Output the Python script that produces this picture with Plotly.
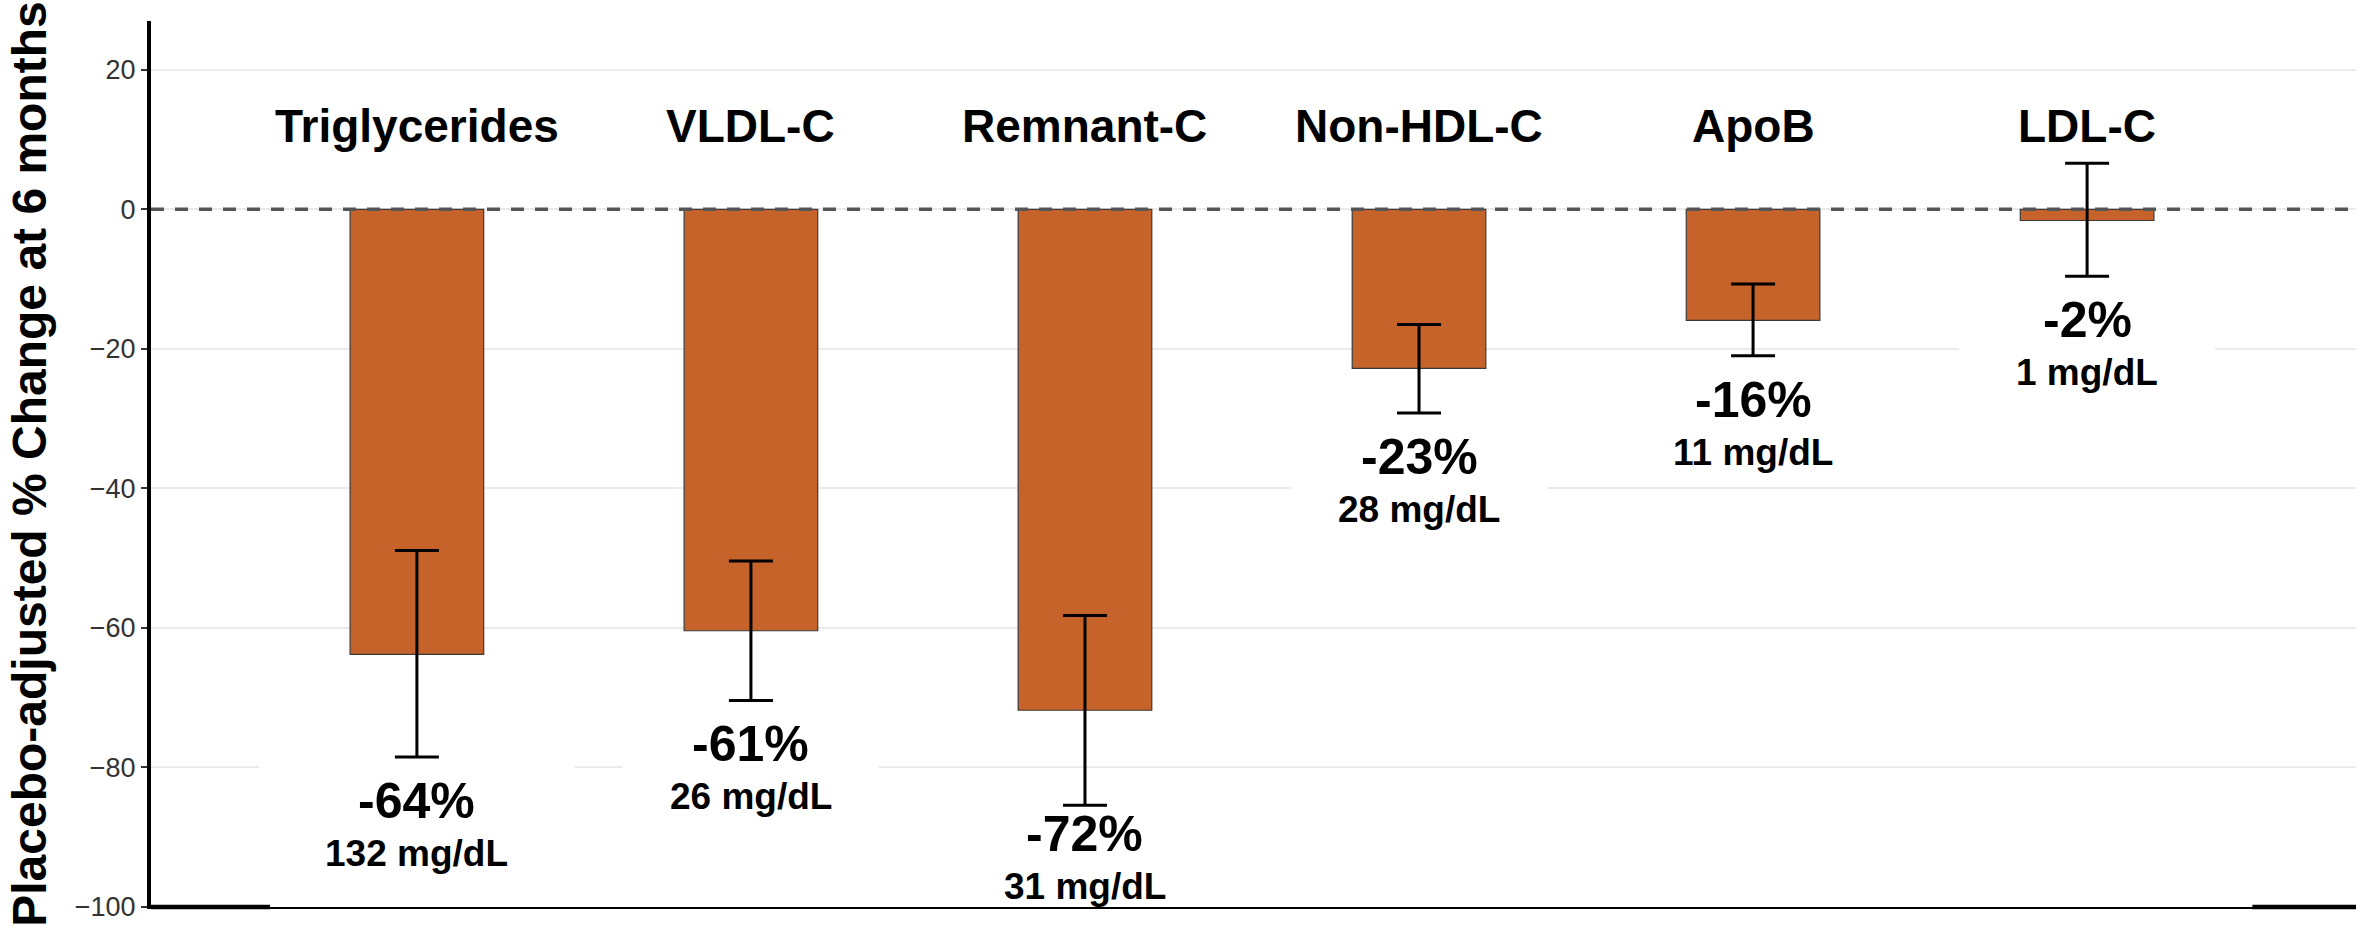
import plotly.graph_objects as go

# ---- data ----
categories = ["Triglycerides", "VLDL-C", "Remnant-C", "Non-HDL-C", "ApoB", "LDL-C"]
pct_change = [-63.8, -60.4, -71.8, -22.8, -15.9, -1.6]
ci_upper = [-48.9, -50.4, -58.2, -16.5, -10.7, 6.6]
ci_lower = [-78.5, -70.4, -85.4, -29.2, -21.0, -9.6]
pct_labels = ["-64%", "-61%", "-72%", "-23%", "-16%", "-2%"]
abs_labels = ["132 mg/dL", "26 mg/dL", "31 mg/dL", "28 mg/dL", "11 mg/dL", "1 mg/dL"]
y_ticks = [20, 0, -20, -40, -60, -80, -100]

FONT = "Liberation Sans, Arial, Helvetica, sans-serif"
BAR = "#C5632A"
Y_MIN, Y_MAX = -100, 27

xs = list(range(len(categories)))

fig = go.Figure()
fig.add_trace(go.Bar(
    x=xs, y=pct_change, width=0.4,
    marker=dict(color=BAR, line=dict(color="#3a3a3a", width=1.2)),
    error_y=dict(type="data", symmetric=False,
                 array=[u - v for u, v in zip(ci_upper, pct_change)],
                 arrayminus=[v - l for v, l in zip(pct_change, ci_lower)],
                 color="black", thickness=3, width=22),
    hoverinfo="skip",
))

# zero reference line
fig.add_hline(y=0, line=dict(color="#555555", width=3.5, dash="13px,11px"), layer="above")

annotations = []
shapes = []
for i, cat in enumerate(categories):
    annotations.append(dict(x=i, y=12, xref="x", yref="y", text=cat, showarrow=False,
                            font=dict(family=FONT, size=46, color="black", weight="bold"),
                            yanchor="middle", xanchor="center"))
    y1 = max(ci_lower[i] - 6.3, Y_MIN + 3 + 7.5)
    y2 = y1 - 7.5
    annotations.append(dict(x=i, y=y1, xref="x", yref="y", text=pct_labels[i], showarrow=False,
                            font=dict(family=FONT, size=50, color="black", weight="bold"),
                            yanchor="middle", xanchor="center"))
    annotations.append(dict(x=i, y=y2, xref="x", yref="y", text=abs_labels[i], showarrow=False,
                            font=dict(family=FONT, size=37, color="black", weight="bold"),
                            yanchor="middle", xanchor="center"))
    half_w = 158 if len(abs_labels[i]) > 8 else 128
    shapes.append(dict(type="rect", xref="x", yref="y", layer="between",
                       xsizemode="pixel", xanchor=i, x0=-half_w, x1=half_w,
                       ysizemode="pixel", yanchor=y1, y0=-80, y1=40,
                       fillcolor="white", line=dict(width=0)))

# thick end pieces of the baseline
shapes.append(dict(type="line", xref="paper", yref="paper", x0=0, x1=0.054, y0=0, y1=0,
                   line=dict(color="black", width=4.5), layer="above"))
shapes.append(dict(type="line", xref="paper", yref="paper", x0=0.953, x1=1, y0=0, y1=0,
                   line=dict(color="black", width=4.5), layer="above"))

fig.update_layout(
    width=2371, height=931,
    margin=dict(l=151, r=15, t=21, b=24, autoexpand=False),
    paper_bgcolor="white", plot_bgcolor="white",
    showlegend=False,
    annotations=annotations,
    shapes=fig.layout.shapes + tuple(shapes),
    font=dict(family=FONT, color="black"),
)
fig.update_xaxes(range=[-0.796, 5.805], showticklabels=False, ticks="", showgrid=False,
                 zeroline=False, showline=True, linecolor="black", linewidth=2, fixedrange=True)
fig.update_yaxes(range=[Y_MIN, Y_MAX], tickvals=y_ticks, showgrid=True, gridcolor="#ebebeb",
                 gridwidth=2, zeroline=False, showline=True, linecolor="black", linewidth=4,
                 ticks="outside", ticklen=6, tickwidth=2, tickcolor="#333333",
                 tickfont=dict(family=FONT, size=27, color="#333333"),
                 title=dict(text="Placebo-adjusted % Change at 6 months", standoff=14,
                            font=dict(family=FONT, size=48, color="black", weight="bold")),
                 automargin=False, fixedrange=True)

fig.write_html("out.html",
               config={"displayModeBar": False, "staticPlot": True},
               post_script="document.body.style.margin='0px';document.body.style.overflow='hidden';")
